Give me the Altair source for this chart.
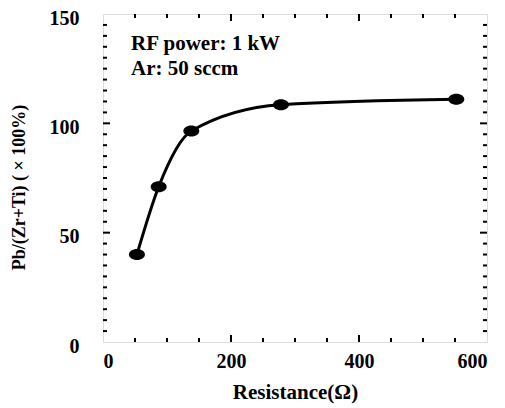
import altair as alt
import pandas as pd

FONT = "Liberation Serif"

# data
resistance = [53, 87, 138, 278, 552]
ratio = [40, 71, 96.5, 108.5, 111]

# axis tick lists
x_labels = [0, 200, 400, 600]
y_labels = [0, 50, 100, 150]
x_major = [200, 400]
x_minor = [50, 100, 150, 250, 300, 350, 450, 500, 550]
y_major = [50, 100]
y_minor = [5, 10, 15, 20, 25, 30, 35, 40, 45, 55, 60, 65, 70, 75, 80, 85, 90, 95,
           105, 110, 115, 120, 125, 130, 135, 140, 145]

W, H = 384, 328
MAJOR_LEN, MINOR_LEN = 7, 4

df = pd.DataFrame({"resistance": resistance, "ratio": ratio})

XS = alt.Scale(domain=[0, 600], nice=False)
YS = alt.Scale(domain=[0, 150], nice=False)

X_AXIS = alt.Axis(values=x_labels, ticks=False, domain=False, grid=False,
                  labelFont=FONT, labelFontSize=20, labelFontWeight="bold",
                  labelColor="black", labelPadding=9,
                  title="Resistance(Ω)", titleFont=FONT, titleFontSize=21,
                  titleFontWeight="bold", titleColor="black",
                  titleY=56, titleBaseline="alphabetic")
Y_AXIS = alt.Axis(values=y_labels, ticks=False, domain=False, grid=False,
                  labelFont=FONT, labelFontSize=20, labelFontWeight="bold",
                  labelColor="black", labelPadding=24, labelOffset=4,
                  title="Pb/(Zr+Ti) ( × 100%)", titleFont=FONT, titleFontSize=18,
                  titleFontWeight="bold", titleColor="black",
                  titleX=-84, titleY=H / 2 + 9, titleAngle=270,
                  titleAlign="center", titleBaseline="middle")


def x_ticks(values, length):
    d = pd.DataFrame({"pos": values})
    bottom = alt.Chart(d).mark_rule(color="black", strokeWidth=2).encode(
        x=alt.X("pos:Q", scale=XS, axis=X_AXIS),
        y=alt.value(H), y2=alt.YValue(H - length))
    top = alt.Chart(d).mark_rule(color="black", strokeWidth=2).encode(
        x=alt.X("pos:Q", scale=XS, axis=X_AXIS),
        y=alt.value(0), y2=alt.YValue(length))
    return [bottom, top]


def y_ticks(values, length):
    d = pd.DataFrame({"pos": values})
    left = alt.Chart(d).mark_rule(color="black", strokeWidth=2).encode(
        y=alt.Y("pos:Q", scale=YS, axis=Y_AXIS),
        x=alt.value(0), x2=alt.XValue(length))
    right = alt.Chart(d).mark_rule(color="black", strokeWidth=2).encode(
        y=alt.Y("pos:Q", scale=YS, axis=Y_AXIS),
        x=alt.value(W), x2=alt.XValue(W - length))
    return [left, right]


line = alt.Chart(df).mark_line(color="black", strokeWidth=3, interpolate="monotone").encode(
    x=alt.X("resistance:Q", scale=XS, axis=X_AXIS),
    y=alt.Y("ratio:Q", scale=YS, axis=Y_AXIS),
)

ellipse = "M-1,0A1,0.69,0,1,1,1,0A1,0.69,0,1,1,-1,0Z"
pts = alt.Chart(df).mark_point(shape=ellipse, filled=True, color="black",
                               opacity=1, size=256).encode(
    x=alt.X("resistance:Q", scale=XS, axis=X_AXIS),
    y=alt.Y("ratio:Q", scale=YS, axis=Y_AXIS),
)

ann = alt.Chart(pd.DataFrame({"t": ["RF power: 1 kW\nAr: 50 sccm"]})).mark_text(
    font=FONT, fontSize=21, fontWeight="bold", color="black",
    align="left", baseline="alphabetic", lineBreak="\n", lineHeight=25,
).encode(text="t:N", x=alt.value(28), y=alt.value(36))

layers = (x_ticks(x_major, MAJOR_LEN) + x_ticks(x_minor, MINOR_LEN)
          + y_ticks(y_major, MAJOR_LEN) + y_ticks(y_minor, MINOR_LEN)
          + [line, pts, ann])

chart = alt.layer(*layers).properties(
    width=W, height=H,
    autosize=alt.AutoSizeParams(type="none"),
    padding={"left": 103, "top": 14, "right": 18, "bottom": 66},
).configure_view(stroke="black", strokeWidth=3).configure(background="white")

chart.save("out.html", embed_options={"renderer": "svg", "actions": False})
